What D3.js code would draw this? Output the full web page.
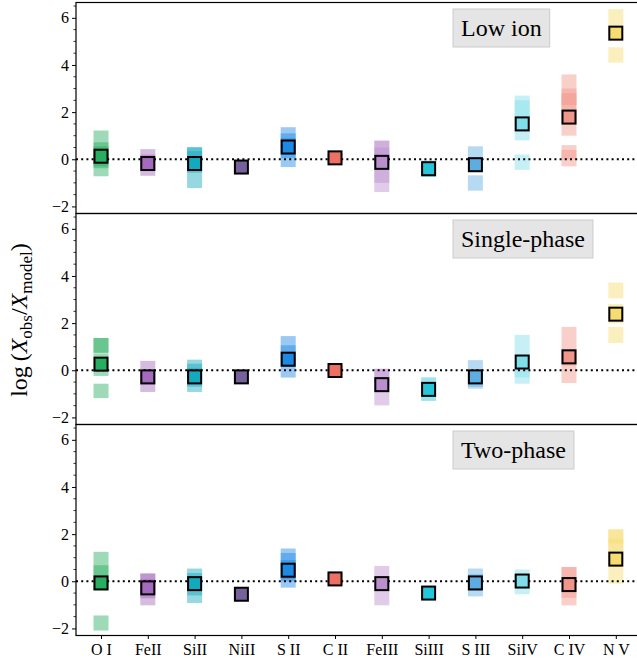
<!DOCTYPE html>
<html><head><meta charset="utf-8">
<script src="https://cdn.jsdelivr.net/npm/d3@7"></script>
<style>body{margin:0;background:#fff}svg{display:block}
svg text{font-family:"Liberation Serif","DejaVu Serif",serif;fill:#000}</style>
</head><body><svg id="c" width="637" height="662"></svg>
<script>
const categories = ["O I","FeII","SiII","NiII","S II","C II","FeIII","SiIII","S III","SiIV","C IV","N V"];
const colors = ["#27ae60","#a569bd","#13a9bf","#76629a","#1e88e5","#ec7063","#bb8fce","#26c6da","#5dade2","#80deea","#f1948a","#f7dc6f"];
const panelTitles = ["Low ion","Single-phase","Two-phase"];
const yTicks = [-2,0,2,4,6];

const lowIonValues = [0.13,-0.18,-0.18,-0.33,0.52,0.06,-0.13,-0.40,-0.23,1.50,1.79,5.35];
const lowIonRanges = [
  [[-0.72,1.22],[-0.38,0.72],[-0.3,0.55]],
  [[-0.70,0.43],[-0.50,0.20]],
  [[-1.22,0.51],[-0.57,0.51],[-0.30,0.35]],
  [],
  [[-0.33,1.36],[0.05,1.10],[0.20,0.90]],
  [[-0.15,0.25]],
  [[-1.39,0.79],[-1.00,0.50],[-0.30,0.79]],
  [[-0.75,-0.05]],
  [[-0.55,0.55],[-1.33,-0.68]],
  [[0.80,2.70],[1.50,2.50],[-0.45,0.20]],
  [[1.00,3.60],[2.30,3.00],[1.50,2.80],[-0.30,0.60],[0.00,0.40]],
  [[5.65,6.37],[4.10,4.75]]
];

const singleValues = [0.26,-0.28,-0.28,-0.28,0.47,-0.01,-0.61,-0.81,-0.28,0.35,0.57,2.38];
const singleRanges = [
  [[0.74,1.37],[0.74,1.37],[-0.24,0.72],[-1.18,-0.57]],
  [[-0.92,0.40],[-0.60,0.00]],
  [[-0.92,0.45],[-0.70,0.28],[-0.50,0.10]],
  [],
  [[-0.31,1.45],[0.14,1.06]],
  [[-0.20,0.15]],
  [[-1.49,0.07],[-0.65,0.05]],
  [[-1.30,-0.30]],
  [[-0.78,0.43],[-0.70,-0.10]],
  [[-0.57,1.50],[-0.30,0.10]],
  [[-0.54,1.84],[0.20,0.90]],
  [[3.05,3.72],[1.99,2.81],[1.16,1.84]]
];

const twoValues = [-0.07,-0.28,-0.10,-0.55,0.47,0.10,-0.10,-0.50,-0.07,0.01,-0.14,0.94];
const twoRanges = [
  [[-0.38,1.25],[-0.38,0.68],[-2.09,-1.45]],
  [[-1.02,0.33],[-0.72,0.33],[-0.50,0.10]],
  [[-0.92,0.54],[-0.60,0.35],[-0.30,0.20]],
  [],
  [[-0.27,1.39],[0.00,1.20],[0.10,0.90]],
  [[-0.10,0.35]],
  [[-1.02,0.65]],
  [],
  [[-0.64,0.54],[-0.40,0.30]],
  [[-0.55,0.50],[-0.20,0.30]],
  [[-1.02,0.61],[0.10,0.60],[-0.70,-0.30]],
  [[-0.10,2.20],[1.60,2.20],[1.00,1.80]]
];

const panels = [
  {title: panelTitles[0], values: lowIonValues, ranges: lowIonRanges},
  {title: panelTitles[1], values: singleValues, ranges: singleRanges},
  {title: panelTitles[2], values: twoValues, ranges: twoRanges}
];

const svg = d3.select("#c");
const left = 76, right = 641, top0 = 2.5, ph = 211;
const x = d3.scalePoint().domain(categories).range([101, 101 + 46.8*11]);
const bw = 15, ms = 13;

panels.forEach((p, k) => {
  const t = top0 + k*ph, b = t + ph;
  const y = d3.scaleLinear().domain([-2.3, 6.65]).range([b, t]);
  const g = svg.append("g");
  p.ranges.forEach((rs, i) => {
    g.selectAll(null).data(rs).enter().append("rect")
      .attr("x", x(categories[i]) - bw/2).attr("width", bw)
      .attr("y", d => y(d[1])).attr("height", d => y(d[0]) - y(d[1]))
      .attr("fill", colors[i]).attr("fill-opacity", 0.45);
  });
  g.append("line").attr("x1", left).attr("x2", right).attr("y1", y(0)).attr("y2", y(0))
    .attr("stroke", "#000").attr("stroke-width", 2).attr("stroke-dasharray", "2,3.2");
  g.selectAll(null).data(p.values).enter().append("rect")
    .attr("x", (d,i) => x(categories[i]) - ms/2).attr("width", ms)
    .attr("y", d => y(d) - ms/2).attr("height", ms)
    .attr("fill", (d,i) => colors[i]).attr("stroke", "#000").attr("stroke-width", 2);
  g.append("rect").attr("x", left).attr("y", t).attr("width", right-left).attr("height", ph)
    .attr("fill", "none").attr("stroke", "#000").attr("stroke-width", 1.2);
  const ax = g.append("g").attr("transform", `translate(${left},0)`)
    .call(d3.axisLeft(y).tickValues(yTicks).tickSize(4).tickPadding(3)
      .tickFormat(d => d < 0 ? "\u2212" + Math.abs(d) : d));
  ax.select(".domain").remove();
  ax.attr("font-family", null).attr("font-size", null);
  ax.selectAll("text").style("font-size", "16px");
  const minor = d3.range(-2, 6.51, 0.5).filter(v => v % 2 !== 0);
  g.selectAll(null).data(minor).enter().append("line")
    .attr("x1", left - 2.5).attr("x2", left).attr("y1", d => y(d)).attr("y2", d => y(d))
    .attr("stroke", "#000").attr("stroke-width", 0.8);
  const box = g.append("rect");
  const tx = g.append("text").attr("x", 461).attr("y", t + 33)
    .style("font-size", "24px").text(p.title);
  const bb = tx.node().getBBox();
  box.attr("x", 453).attr("y", t + 6.5)
    .attr("width", bb.width + 16).attr("height", 38)
    .attr("fill", "#e5e5e5").attr("stroke", "#cccccc").attr("stroke-width", 1);
  if (k === 2) {
    const xa = g.append("g").attr("transform", `translate(0,${b})`)
      .call(d3.axisBottom(x).tickSize(3.5).tickPadding(5));
    xa.select(".domain").remove();
    xa.attr("font-family", null).attr("font-size", null);
    xa.selectAll("text").style("font-size", "16px");
  }
});

const yl = svg.append("text").attr("transform", "translate(27,320) rotate(-90)")
  .attr("text-anchor", "middle").style("font-size", "24px");
yl.append("tspan").text("log\u2009(");
yl.append("tspan").style("font-style", "italic").text("X");
yl.append("tspan").style("font-size", "17px").attr("dy", 5).text("obs");
yl.append("tspan").attr("dy", -5).text("/");
yl.append("tspan").style("font-style", "italic").text("X");
yl.append("tspan").style("font-size", "17px").attr("dy", 5).text("model");
yl.append("tspan").attr("dy", -5).text(")");
</script></body></html>
